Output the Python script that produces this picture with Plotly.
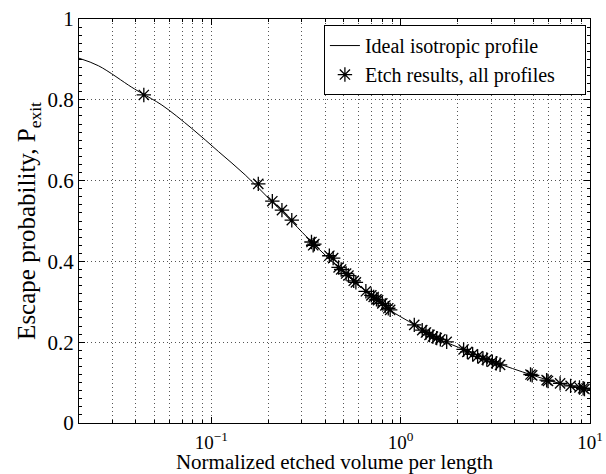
import plotly.graph_objects as go

# Ideal isotropic profile
curve_x = [0.02, 0.0254, 0.038, 0.043, 0.0548, 0.0789, 0.109, 0.151, 0.201, 0.267,
           0.344, 0.475, 0.659, 0.875, 1.186, 1.61, 2.18, 3.08, 4.92, 6.94, 10.0]
curve_y = [0.903, 0.884, 0.831, 0.816, 0.787, 0.729, 0.672, 0.614, 0.556, 0.498,
           0.445, 0.383, 0.325, 0.280, 0.243, 0.207, 0.181, 0.152, 0.119, 0.098, 0.083]

# Etch results, all profiles
etch_x = [0.044, 0.177, 0.210, 0.236, 0.266, 0.338, 0.345, 0.350, 0.420, 0.440,
          0.470, 0.485, 0.515, 0.530, 0.565, 0.580, 0.655, 0.700, 0.720, 0.745,
          0.760, 0.800, 0.830, 0.860, 0.880, 1.18, 1.30, 1.36, 1.42, 1.48,
          1.55, 1.62, 1.75, 2.15, 2.25, 2.40, 2.55, 2.72, 2.85, 3.05,
          3.20, 3.35, 4.85, 4.95, 5.90, 6.00, 6.95, 7.90, 8.80, 9.20, 9.35]
etch_y = [0.812, 0.592, 0.549, 0.527, 0.502, 0.448, 0.440, 0.443, 0.414, 0.408,
          0.385, 0.380, 0.370, 0.365, 0.352, 0.348, 0.326, 0.316, 0.312, 0.306,
          0.304, 0.296, 0.291, 0.284, 0.280, 0.243, 0.230, 0.224, 0.218, 0.214,
          0.210, 0.207, 0.201, 0.182, 0.176, 0.170, 0.165, 0.160, 0.157, 0.152,
          0.148, 0.144, 0.120, 0.118, 0.106, 0.104, 0.098, 0.092, 0.088, 0.086, 0.084]

x_tickvals = [0.1, 1, 10]
x_ticktext = ["10<sup>\u22121</sup>", "10<sup>0</sup>", "10<sup>1</sup>"]
y_tickvals = [0, 0.2, 0.4, 0.6, 0.8, 1]
y_ticktext = ["0", "0.2", "0.4", "0.6", "0.8", "1"]

FONT = "Liberation Serif"
GRID = "#555"
DOT = "1px,3px"

fig = go.Figure()
fig.add_trace(go.Scatter(
    x=curve_x, y=curve_y, mode="lines", name="Ideal isotropic profile",
    line=dict(color="black", width=1, shape="spline"),
))
fig.add_trace(go.Scatter(
    x=etch_x, y=etch_y, mode="markers",
    name="Etch results, all profiles\u00a0\u00a0\u00a0\u00a0\u00a0",
    marker=dict(symbol="asterisk-open", size=12, color="black",
                line=dict(color="black", width=1.3)),
))

fig.update_layout(
    width=606, height=474,
    margin=dict(l=79, r=16, t=19, b=51),
    paper_bgcolor="white", plot_bgcolor="white",
    font=dict(family=FONT, size=21, color="black"),
    showlegend=True,
    legend=dict(
        x=0.992, y=0.985, xanchor="right", yanchor="top",
        bgcolor="white", bordercolor="black", borderwidth=1,
        font=dict(family=FONT, size=20),
        tracegroupgap=0, itemwidth=30,
    ),
    xaxis=dict(
        type="log", range=[-1.69897, 1],
        tickvals=x_tickvals, ticktext=x_ticktext,
        ticks="inside", ticklen=6, tickcolor="black",
        showline=True, linecolor="black", linewidth=1, mirror="allticks",
        showgrid=True, gridcolor=GRID, griddash=DOT, gridwidth=1,
        minor=dict(dtick="D1", ticks="inside", ticklen=3, tickcolor="black",
                   showgrid=True, gridcolor=GRID, griddash=DOT, gridwidth=1),
        zeroline=False, automargin=False, ticklabelstandoff=2,
        tickfont=dict(size=19),
        title=dict(text="Normalized etched volume per length", font=dict(size=21), standoff=3),
    ),
    yaxis=dict(
        range=[0, 1],
        tickvals=y_tickvals, ticktext=y_ticktext,
        ticks="inside", ticklen=6, tickcolor="black",
        showline=True, linecolor="black", linewidth=1, mirror="allticks",
        showgrid=True, gridcolor=GRID, griddash=DOT, gridwidth=1,
        minor=dict(dtick=0.02, ticks="inside", ticklen=3, tickcolor="black", showgrid=False),
        zeroline=False, automargin=False,
        tickfont=dict(size=21),
        title=dict(text="Escape probability, P<sub>exit</sub>", font=dict(size=25), standoff=4),
    ),
)

fig.write_html("out.html", config={"displayModeBar": False},
               post_script="document.body.style.margin='0px';")
